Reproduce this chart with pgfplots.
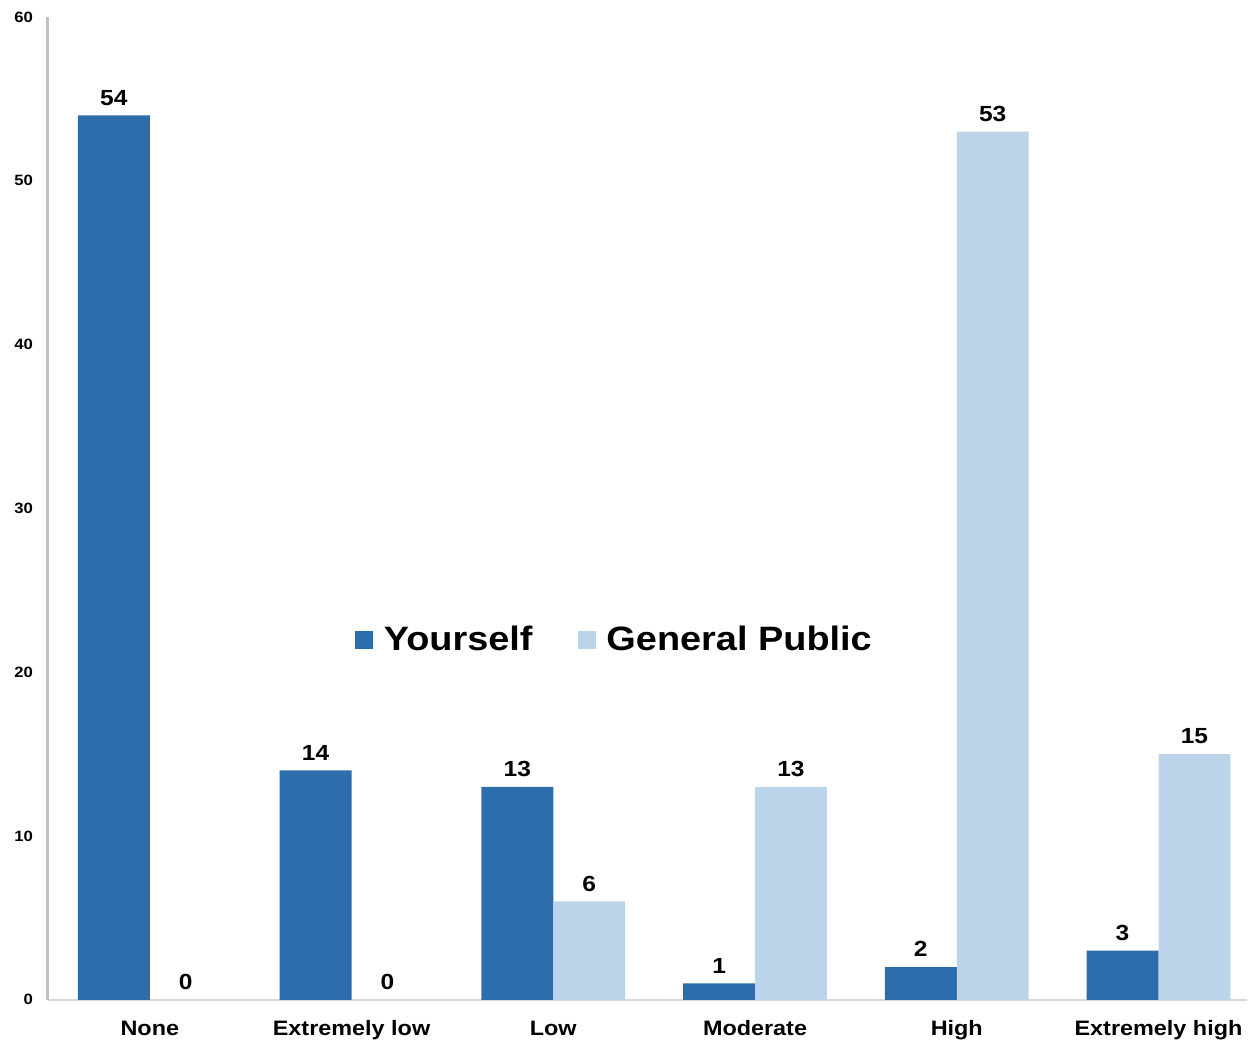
\documentclass[border=0pt]{standalone}
\usepackage{fontspec}
\setmainfont{Liberation Sans}[FakeStretch=1.12]
\usepackage{pgfplots}
\pgfplotsset{compat=1.18}

\definecolor{yourself}{HTML}{2E6DAB}
\definecolor{public}{HTML}{BCD4EA}
\definecolor{axisgray}{HTML}{BFBFBF}

\begin{document}
\begin{tikzpicture}
\begin{axis}[
  ybar=0pt,
  bar width=36bp,
  scale only axis,
  width=600.5bp, height=492bp,
  xmin=-0.505, xmax=5.441,
  ymin=0, ymax=60,
  ytick={0,10,...,60},
  xtick={0,1,2,3,4,5},
  xticklabels={None,Extremely low,Low,Moderate,High,Extremely high},
  major tick length=0pt,
  axis x line*=bottom,
  axis y line*=left,
  x axis line style={draw=axisgray!60, line width=1bp, -},
  y axis line style={draw=axisgray, line width=1.5bp, -},
  /pgf/number format/assume math mode=true,
  yticklabel style={font=\bfseries\fontsize{7.5}{9}\selectfont, xshift=-4bp},
  xticklabel style={font=\bfseries\fontsize{10.5}{12}\selectfont, anchor=base, yshift=-18bp},
  nodes near coords,
  every node near coord/.append style={font=\bfseries\fontsize{11}{13}\selectfont, yshift=1.5bp},
  legend style={
    draw=none, fill=none,
    at={(0.473,0.366)}, anchor=center,
    legend columns=-1,
    font=\bfseries\fontsize{17}{20}\selectfont,
    /tikz/every even column/.append style={column sep=20.5bp},
  },
  legend image code/.code={\fill[#1] (-6.5bp,-4.5bp) rectangle (2.5bp,4.5bp); \path (6bp,0bp);},
  clip=false,
]
\addplot[fill=yourself, draw=none] coordinates {
  (0,54) (1,14) (2,13) (3,1) (4,2) (5,3)
};
\addplot[fill=public, draw=none] coordinates {
  (0,0) (1,0) (2,6) (3,13) (4,53) (5,15)
};
\legend{Yourself,General Public}
\path ([xshift=-24bp,yshift=-22bp]rel axis cs:0,0) rectangle ([yshift=8.5bp]rel axis cs:1,1);
\end{axis}
\end{tikzpicture}
\end{document}
